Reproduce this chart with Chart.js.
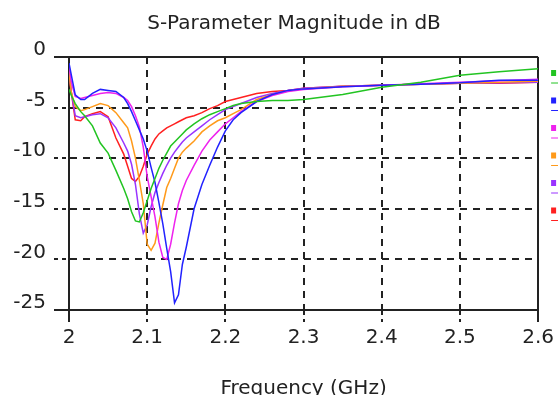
<!DOCTYPE html>
<html>
<head>
<meta charset="utf-8">
<script src="https://cdn.jsdelivr.net/npm/chart.js@4.4.0/dist/chart.umd.min.js"></script>
<style>
  html, body { margin: 0; padding: 0; background: #fff; }
  #wrap { width: 558px; height: 395px; }
</style>
</head>
<body>
<div id="wrap"><canvas id="sparam" width="558" height="395"></canvas></div>
<script>
// frequency points (GHz), shared by all traces
const freq = [2.000, 2.003, 2.008, 2.015, 2.02, 2.03, 2.04, 2.05, 2.06, 2.07, 2.075, 2.08, 2.085, 2.09, 2.095,
  2.10, 2.105, 2.11, 2.115, 2.12, 2.125, 2.13, 2.135, 2.14, 2.145, 2.15, 2.16, 2.17, 2.18, 2.19, 2.20,
  2.21, 2.22, 2.24, 2.26, 2.28, 2.30, 2.35, 2.40, 2.45, 2.50, 2.55, 2.60];

// magnitude in dB
const greenDb = [-3.2, -3.8, -4.6, -5.4, -5.8, -6.8, -8.5, -9.5, -11.2, -13.0, -14.0, -15.3, -16.2, -16.3, -15.4,
  -14.2, -13.0, -12.0, -11.0, -10.2, -9.5, -8.8, -8.4, -8.0, -7.6, -7.2, -6.6, -6.1, -5.7, -5.4, -5.1,
  -4.8, -4.6, -4.4, -4.3, -4.3, -4.2, -3.7, -3.0, -2.5, -1.8, -1.45, -1.15];
const blueDb = [-0.6, -1.8, -3.75, -4.2, -4.2, -3.6, -3.2, -3.3, -3.4, -4.0, -4.6, -5.4, -6.3, -7.2, -8.1,
  -9.3, -10.9, -12.4, -14.4, -16.5, -18.9, -21.2, -24.3, -23.5, -20.5, -18.8, -15.0, -12.6, -10.7, -8.9, -7.3,
  -6.2, -5.5, -4.4, -3.7, -3.3, -3.15, -2.95, -2.8, -2.7, -2.55, -2.3, -2.3];
const magentaDb = [-0.9, -2.5, -3.9, -4.1, -4.0, -3.8, -3.6, -3.5, -3.6, -4.0, -4.3, -4.9, -5.8, -6.9, -8.9,
  -11.8, -13.8, -15.8, -18.3, -19.8, -20.0, -18.5, -16.4, -14.5, -13.2, -12.2, -10.7, -9.3, -8.2, -7.4, -6.6,
  -6.0, -5.4, -4.4, -3.8, -3.4, -3.2, -2.95, -2.8, -2.65, -2.5, -2.35, -2.2];
const orangeDb = [-1.5, -3.5, -4.9, -5.3, -5.2, -4.9, -4.6, -4.8, -5.5, -6.5, -7.0, -8.3, -10.0, -12.2, -14.5,
  -18.5, -19.1, -18.4, -16.4, -14.6, -12.9, -12.0, -11.0, -10.0, -9.4, -9.0, -8.3, -7.4, -6.8, -6.3, -6.0,
  -5.6, -5.2, -4.2, -3.7, -3.35, -3.15, -2.9, -2.8, -2.7, -2.6, -2.5, -2.4];
const purpleDb = [-1.2, -3.5, -5.8, -6.0, -5.9, -5.7, -5.6, -6.0, -7.0, -8.5, -9.3, -10.6, -12.6, -15.5, -17.4,
  -16.6, -14.8, -13.4, -12.4, -11.5, -10.7, -10.0, -9.4, -8.9, -8.4, -8.0, -7.4, -6.8, -6.2, -5.7, -5.2,
  -4.9, -4.6, -4.0, -3.6, -3.3, -3.1, -2.9, -2.8, -2.7, -2.6, -2.55, -2.5];
const redDb = [-1.8, -3.5, -6.2, -6.3, -5.9, -5.6, -5.4, -5.9, -8.0, -9.6, -10.8, -12.0, -12.3, -11.8, -10.8,
  -9.6, -8.8, -8.1, -7.6, -7.3, -7.0, -6.8, -6.6, -6.4, -6.2, -6.0, -5.8, -5.5, -5.1, -4.8, -4.4,
  -4.2, -4.0, -3.6, -3.4, -3.3, -3.1, -2.9, -2.8, -2.7, -2.6, -2.6, -2.5];

const seriesNames = ['S11 case 1', 'S11 case 2', 'S11 case 3', 'S11 case 4', 'S11 case 5', 'S11 case 6'];
const seriesColors = ['#22c422', '#2222ff', '#ee22ee', '#ff9a1a', '#9933ff', '#ff2020'];
const seriesValues = [greenDb, blueDb, magentaDb, orangeDb, purpleDb, redDb];

const xTicks = [2, 2.1, 2.2, 2.3, 2.4, 2.5, 2.6];
const yTicks = [0, -5, -10, -15, -20, -25];

const font = { family: 'DejaVu Sans', size: 20, weight: 'normal' };
const ink = '#222';

// little legend stub at the right edge (the labels run off the picture)
const legendMarks = {
  id: 'legendMarks',
  afterDraw(chart) {
    const { ctx, chartArea } = chart;
    chart.data.datasets.forEach((ds, i) => {
      const x = chartArea.right + 13;
      const y = chartArea.top + 16 + i * 27.5;
      ctx.save();
      ctx.fillStyle = ds.borderColor;
      ctx.fillRect(x, y - 3, 5, 6);
      ctx.strokeStyle = ds.borderColor;
      ctx.lineWidth = 1;
      ctx.beginPath();
      ctx.moveTo(x, y + 10);
      ctx.lineTo(x + 30, y + 10);
      ctx.stroke();
      ctx.font = '16px "DejaVu Sans"';
      ctx.textBaseline = 'middle';
      ctx.fillText(ds.label, x + 40, y + 4);
      ctx.restore();
    });
  }
};

const isEdge = (ctx) => ctx.index === 0 || ctx.index === ctx.scale.ticks.length - 1;

new Chart(document.getElementById('sparam'), {
  type: 'line',
  data: {
    datasets: seriesValues.map((vals, i) => ({
      label: seriesNames[i],
      data: freq.map((f, j) => ({ x: f, y: vals[j] })),
      borderColor: seriesColors[i],
      backgroundColor: seriesColors[i],
      borderWidth: 1.5,
      pointRadius: 0,
      tension: 0,
      fill: false
    }))
  },
  options: {
    responsive: false,
    animation: false,
    layout: { padding: { left: 0, right: 18, top: 0, bottom: 0 } },
    plugins: {
      legend: { display: false },
      tooltip: { enabled: false },
      title: {
        display: true,
        fullSize: false,
        text: 'S-Parameter Magnitude in dB   ',
        color: ink,
        font: font,
        padding: { top: 12, bottom: 21 }
      }
    },
    scales: {
      x: {
        type: 'linear',
        min: xTicks[0],
        max: xTicks[xTicks.length - 1],
        afterBuildTicks: (s) => { s.ticks = xTicks.map(v => ({ value: v })); },
        afterFit: (s) => { s.height = 85; },
        ticks: { color: ink, font: font, padding: 4, maxRotation: 0, callback: (v) => String(v) },
        grid: {
          color: ink,
          lineWidth: 2,
          tickLength: 12,
          tickColor: ink,
          tickWidth: 2,
          tickBorderDash: (c) => isEdge(c) ? [] : [4, 4]
        },
        border: { display: true, color: ink, width: 2, dash: (c) => isEdge(c) ? [] : [7, 6] },
        title: {
          display: true,
          text: 'Frequency (GHz)',
          color: ink,
          font: font,
          padding: { top: 0, bottom: -6 }
        }
      },
      y: {
        min: yTicks[yTicks.length - 1],
        max: yTicks[0],
        afterBuildTicks: (s) => { s.ticks = yTicks.slice().reverse().map(v => ({ value: v })); },
        afterFit: (s) => { s.width = 69; },
        ticks: { color: ink, font: font, padding: 8, labelOffset: -7 },
        grid: {
          color: ink,
          lineWidth: 2,
          tickLength: 15,
          tickColor: ink,
          tickWidth: 2,
          tickBorderDash: (c) => isEdge(c) ? [] : [4, 4]
        },
        border: { display: true, color: ink, width: 2, dash: (c) => isEdge(c) ? [] : [7, 6] }
      }
    }
  },
  plugins: [legendMarks]
});
</script>
</body>
</html>
